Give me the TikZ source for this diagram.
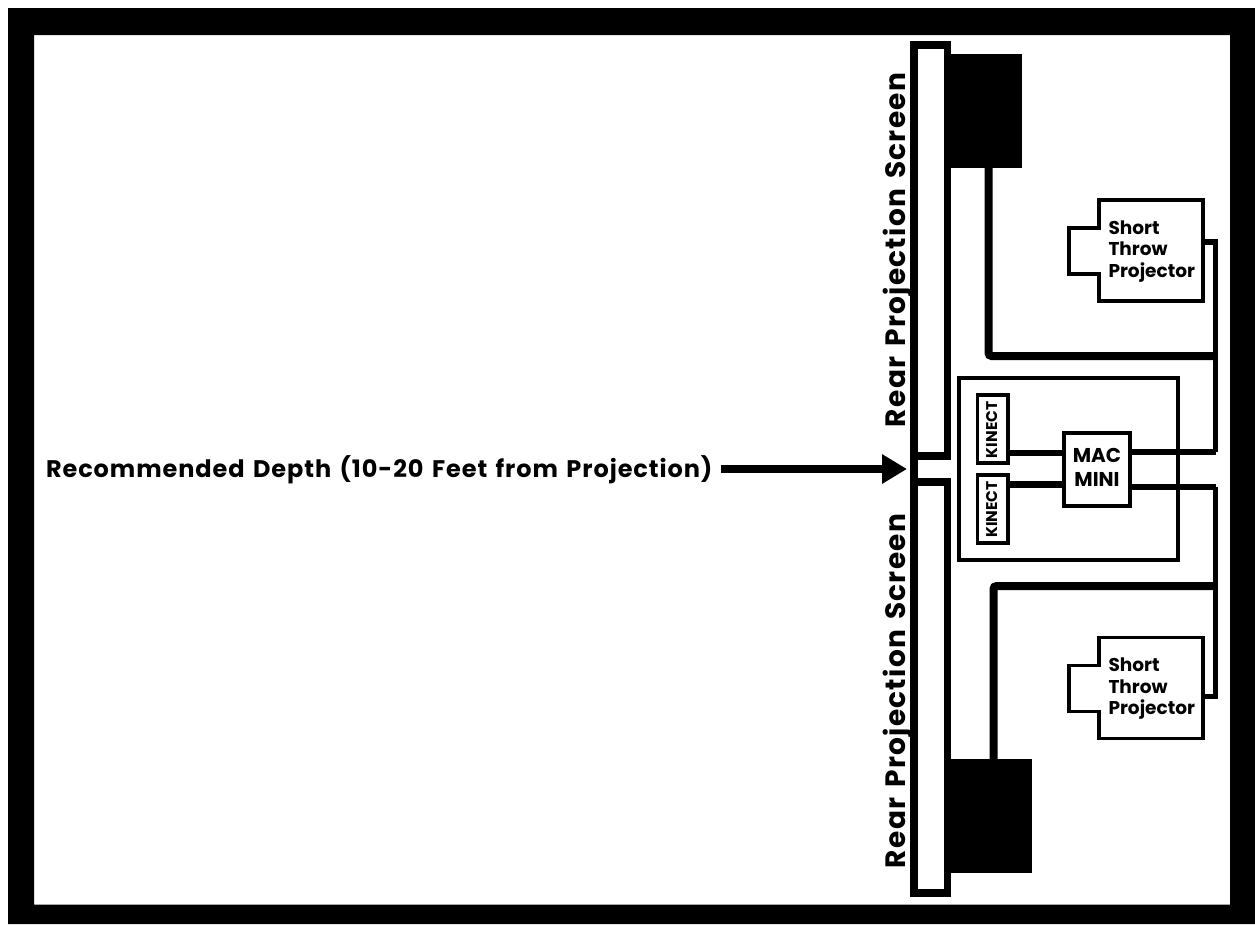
\documentclass[tikz,border=0pt]{standalone}
\usepackage{fontspec}
\setmainfont{Poppins}[BoldFont={Poppins Bold}]
\newfontfamily\mainlbl[LetterSpace=3.85,WordSpace=1.4]{Poppins Bold}
\newfontfamily\rotlbl[LetterSpace=4.6,WordSpace=1.4]{Poppins Bold}
\newfontfamily\smalllbl{Poppins Bold}
\usetikzlibrary{arrows.meta}
\tikzset{
  x=1pt,y=-1pt,
  lbl/.style={inner sep=0pt,outer sep=0pt,text=black},
  screenbox/.style={draw=black,fill=white,line width=7.7pt,minimum width=33.5pt,minimum height=411pt,inner sep=0pt,outer sep=0pt},
  speakerbox/.style={fill=black,draw=none,inner sep=0pt,outer sep=0pt},
  roombox/.style={draw=black,line width=4pt,fill=white,minimum width=219pt,minimum height=182pt,inner sep=0pt,outer sep=0pt},
  kinectbox/.style={draw=black,fill=white,line width=3.6pt,minimum width=30.5pt,minimum height=68pt,inner sep=0pt,outer sep=0pt},
  macbox/.style={draw=black,fill=white,line width=4pt,minimum width=66pt,minimum height=72.5pt,inner sep=0pt,outer sep=0pt},
  cable/.style={draw=black,line width=8pt},
  thincable/.style={draw=black,line width=5.5pt,line join=miter},
  wire/.style={draw=black,line width=6.5pt},
  projshape/.style={draw=black,fill=white,line width=3.6pt,line join=miter},
  projtext/.style={lbl,align=left,anchor=north west,font=\smalllbl\fontsize{18.5}{21.5}\selectfont},
  arrowline/.style={draw=black,line width=8pt,-{Triangle[length=25pt,width=28pt]}},
}
\begin{document}
\begin{tikzpicture}
\useasboundingbox (0,0) rectangle (1255,924);
% frame
\fill[white] (0,0) rectangle (1255,924);
\fill[black,even odd rule] (8,8) rectangle (1255,924) (34,35) rectangle (1230,904.5);
% room and devices
\node[roombox] (room) at (1068.5,469) {};
\node[speakerbox,minimum width=78pt,minimum height=114pt] (spkA) at (983,111) {};
\node[speakerbox,minimum width=88pt,minimum height=114pt] (spkB) at (988,816) {};
\node[screenbox] (scrA) at (930.75,250.5) {};
\node[screenbox] (scrB) at (930.75,687.5) {};
\draw[draw=black,line width=7.7pt] (scrA.south west) -- (scrB.north west);
\node[kinectbox] (kinA) at (992.75,429) {};
\node[kinectbox] (kinB) at (992.75,509) {};
\node[macbox] (mac) at (1097,469.25) {};
\node[lbl,rotate=90,anchor=base west,font=\smalllbl\fontsize{15.5}{16}\selectfont] (kinAt) at (997,458) {KINECT};
\node[lbl,rotate=90,anchor=base west,font=\smalllbl\fontsize{15.5}{16}\selectfont] (kinBt) at (997,537.5) {KINECT};
\node[lbl,align=center,anchor=center,font=\smalllbl\fontsize{20}{24.5}\selectfont] (mact) at (1097,467.5) {MAC\\MINI};
% projectors
\coordinate (pAport) at (1203,242);
\coordinate (pBport) at (1203,696.5);
\draw[projshape] (1099,200) -- (1203,200) -- (1203,301) -- (1099,301) -- (1099,274) -- (1069,274) -- (1069,228) -- (1099,228) -- cycle;
\fill[white] (1097,230) rectangle (1101,272);
\draw[projshape] (1099,637.5) -- (1203,637.5) -- (1203,738.5) -- (1099,738.5) -- (1099,711.5) -- (1069,711.5) -- (1069,665.5) -- (1099,665.5) -- cycle;
\fill[white] (1097,667.5) rectangle (1101,709.5);
\node[projtext] (pAt) at (1108.5,220.5) {Short\\Throw\\Projector};
\node[projtext] (pBt) at (1108.5,658) {Short\\Throw\\Projector};
% connectors
\coordinate (busA) at (1215.5,452);
\coordinate (busB) at (1215.5,487);
\coordinate (bendA) at (988.5,356);
\coordinate (joinA) at (1215.5,356);
\coordinate (bendB) at (993.5,586);
\coordinate (joinB) at (1215.5,586);
\draw[thincable] (pAport) -- (pAport -| busA) -- (busA);
\draw[thincable] (busB) -- (pBport -| busB) -- (pBport);
\draw[wire] (busA) -- (busA -| mac.east);
\draw[wire] (busB) -- (busB -| mac.east);
\draw[cable,rounded corners=3pt] (bendA |- spkA.south) -- (bendA) -- (joinA);
\draw[cable,rounded corners=3pt] (bendB |- spkB.north) -- (bendB) -- (joinB);
\coordinate (kwA) at (1000,453);
\coordinate (kwB) at (1000,484.5);
\draw[wire] (kinA.east |- kwA) -- (mac.west |- kwA);
\draw[wire] (kinB.east |- kwB) -- (mac.west |- kwB);
% labels
\node[lbl,anchor=base west,font=\mainlbl\fontsize{24}{26}\selectfont] (depth) at (46,477) {Recommended Depth (10-20 Feet from Projection)};
\coordinate (arrEnd) at (907,469);
\coordinate (arrStart) at (721,469);
\draw[arrowline] (arrStart) -- (arrEnd);
\node[lbl,rotate=90,anchor=base west,font=\rotlbl\fontsize{28}{30}\selectfont] (rpA) at (905,427) {Rear Projection Screen};
\node[lbl,rotate=90,anchor=base west,font=\rotlbl\fontsize{28}{30}\selectfont] (rpB) at (905,868) {Rear Projection Screen};
\end{tikzpicture}
\end{document}
